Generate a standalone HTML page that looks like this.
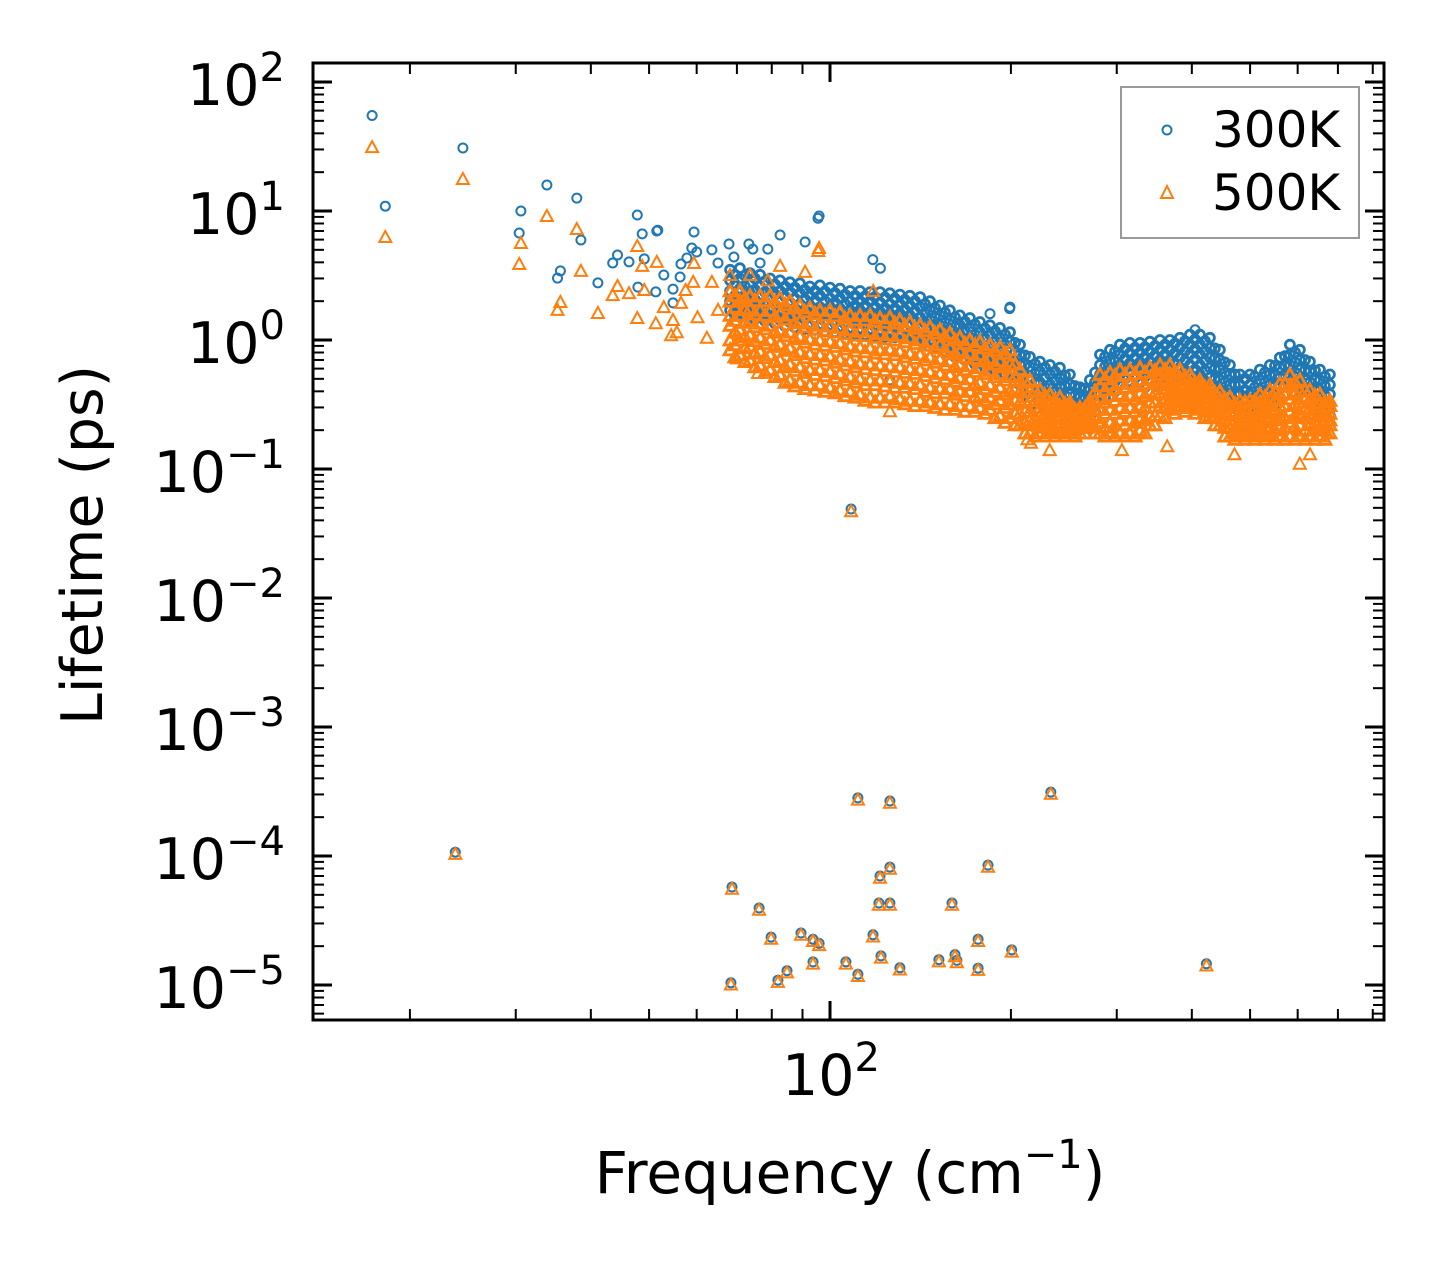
<!DOCTYPE html>
<html><head><meta charset="utf-8"><title>Lifetime vs Frequency</title>
<style>
html,body{margin:0;padding:0;background:#fff;}
svg{display:block;}
text{font-family:"DejaVu Sans","Liberation Sans",sans-serif;fill:#000;}
</style></head>
<body>
<svg id="chart" width="1443" height="1269" viewBox="0 0 1443 1269" xmlns="http://www.w3.org/2000/svg">
<rect x="0" y="0" width="1443" height="1269" fill="#fff"/>
<g id="marks300"></g>
<g id="marks500"></g>
<g id="ticks"></g>
<rect x="313" y="63" width="1071" height="957" fill="none" stroke="#000" stroke-width="3"/>
<g id="labels"></g>
<text x="0" y="0" font-size="57" text-anchor="middle" transform="translate(102,545) rotate(-90)">Lifetime (ps)</text>
<text x="850" y="1193" font-size="58" text-anchor="middle">Frequency (cm<tspan font-size="40" dy="-25">−1</tspan><tspan dy="25">)</tspan></text>
<g>
<rect x="1121" y="87" width="238" height="151" fill="#fff" stroke="#999" stroke-width="2"/>
<circle cx="1167" cy="130" r="4.5" fill="none" stroke="#1f77b4" stroke-width="2"/>
<text x="1212" y="147" font-size="50">300K</text>
<polygon points="1167,186 1173,198 1161,198" fill="none" stroke="#ff7f0e" stroke-width="2"/>
<text x="1212" y="210" font-size="50">500K</text>
</g>
</svg>
<script>
// ---- data ----
const scatterFreq300 = [17.3,18.2,24.5,30.6,30.4,33.8,37.9,38.5,35.6,35.2,41.1,43.5,44.3,46.3,47.8,48.7,49.1,47.9,51.3,51.5,51.7,52.9,54.8,56.5,57.8,59.4,58.9,60.0,63.6,67.9,69.2,73.3,74.4,78.8,82.6,90.9,95.9,95.5,54.8,56.3,65.1,76.5,108.4,117.8,121.3,125.8,199.3,184.6,405,199];
const scatterLife300 = [55,10.9,30.8,10.0,6.75,15.9,12.6,5.96,3.43,3.02,2.77,3.95,4.56,4.03,9.31,6.64,4.25,2.57,2.36,7.0,7.1,3.19,2.48,3.88,4.32,6.88,5.17,4.81,4.99,5.55,4.40,5.55,5.07,5.07,6.52,5.75,9.14,8.8,1.94,3.08,3.95,3.95,0.049,4.2,3.6,0.49,1.8,1.6,1.2,1.75];
const scatterFreq500 = [17.3,18.2,24.5,30.6,30.4,33.8,37.9,38.5,35.6,35.2,41.1,43.5,44.3,46.3,47.8,48.7,49.1,47.8,51.3,51.5,52.9,54.8,54.4,55.6,59.4,57.5,56.5,59.2,62.4,60.2,63.6,68.2,65.1,70.0,75.9,73.6,82.6,90.9,95.9,95.6,78.8,108.4,118,125.8,213,216,232,306,364,471,605,629];
const scatterLife500 = [31.3,6.29,17.7,5.65,3.88,9.14,7.25,3.43,1.97,1.71,1.62,2.23,2.62,2.31,5.35,3.75,2.44,1.48,1.35,4.03,1.80,1.43,1.09,1.15,3.95,2.44,1.94,2.82,1.04,1.50,2.82,3.19,1.71,0.72,0.555,3.19,3.75,3.37,5.17,4.9,2.9,0.047,2.4,0.28,0.17,0.16,0.14,0.14,0.15,0.13,0.11,0.13];
const bandFreq = [68.2,70.8,73.6,76.5,79.5,82.6,85.8,89.1,92.6,96.2,100,103.9,108,112.2,116.6,121.1,125.8,130.7,135.8,141.2,146.7,152.4,158.3,164.5,170.9,177.6,184.6,191.8,199.3,207.1,215.1,223.5,232.3,241.3,250.7,260.5,270.7,281.3,292.3,303.7,315.5,327.9,340.6,354,367.8,382.1,397.1,412.6,428.7,445.4,462.8,480.9,499.7,519.2,539.5,560.5,582.4,605.2,628.8,653.4,678.9];
const band300 = [
[3.5,2.9,2.4,2.0,1.7],[3.6,3.0,2.5,2.1,1.75],[3.3,2.7,2.3,1.9,1.6],[3.2,2.6,2.2,1.85,1.55],[3.0,2.5,2.1,1.75,1.5],
[2.9,2.4,2.0,1.7,1.43],[2.8,2.35,1.95,1.65,1.38],[2.75,2.3,1.9,1.6,1.35],[2.6,2.2,1.85,1.55,1.3],[2.65,2.2,1.8,1.55,1.3],
[2.55,2.1,1.8,1.5,1.25],[2.5,2.1,1.75,1.45,1.25],[2.4,2.0,1.7,1.43,1.2],[2.4,2.0,1.7,1.43,1.2],[2.35,2.0,1.65,1.4,1.18],
[2.35,1.95,1.65,1.38,1.15],[2.3,1.9,1.6,1.36,1.15],[2.25,1.9,1.6,1.35,1.13],[2.2,1.85,1.55,1.32,1.1],[2.15,1.8,1.5,1.28,1.08],
[2.0,1.7,1.43,1.2,1.0],[1.85,1.55,1.3,1.1,0.92],[1.7,1.43,1.2,1.0,0.84],[1.55,1.3,1.1,0.92,0.77],[1.48,1.25,1.05,0.88,0.74],
[1.38,1.15,0.97,0.81,0.68],[1.3,1.1,0.92,0.77,0.64],[1.24,1.04,0.87,0.73,0.61],[1.15,0.97,0.81,0.68,0.57],[0.92,0.77,0.65,0.54,0.45],
[0.74,0.62,0.52,0.43,0.36],[0.68,0.57,0.47,0.4,0.33],[0.64,0.54,0.45,0.38,0.32],[0.61,0.51,0.43,0.36,0.3],[0.54,0.45,0.38,0.31,0.26],
[0.43,0.36,0.3,0.25,0.21],[0.49,0.41,0.34,0.29,0.24],[0.77,0.64,0.54,0.45,0.38],[0.84,0.7,0.59,0.49,0.41],[0.92,0.77,0.64,0.54,0.45],
[0.95,0.79,0.66,0.56,0.47],[0.95,0.8,0.67,0.56,0.47],[0.97,0.81,0.68,0.57,0.48],[1.0,0.84,0.7,0.59,0.49],[1.0,0.84,0.7,0.59,0.49],
[1.04,0.87,0.73,0.61,0.51],[1.1,0.92,0.77,0.64,0.54],[1.1,0.92,0.77,0.64,0.54],[1.04,0.87,0.73,0.61,0.51],[0.84,0.7,0.59,0.49,0.41],
[0.64,0.54,0.45,0.38,0.31],[0.54,0.45,0.38,0.31,0.26],[0.54,0.45,0.38,0.31,0.26],[0.59,0.49,0.41,0.34,0.29],[0.64,0.54,0.45,0.38,0.31],
[0.73,0.61,0.51,0.43,0.36],[0.92,0.77,0.64,0.54,0.45],[0.84,0.7,0.59,0.49,0.41],[0.68,0.57,0.47,0.4,0.33],[0.59,0.49,0.41,0.34,0.29],
[0.54,0.45,0.38,0.31,0.26]];
const band500 = [
[2.4,2.0,1.55,1.3,1.0,0.84],[2.4,2.0,1.55,1.2,1.0,0.77],[2.2,1.75,1.43,1.1,0.9,0.70],[2.2,1.7,1.35,1.05,0.82,0.64],[2.2,1.7,1.3,1.0,0.77,0.59],
[2.1,1.6,1.2,0.93,0.70,0.54],[2.0,1.55,1.15,0.87,0.65,0.49],[1.85,1.4,1.07,0.81,0.62,0.47],[1.77,1.35,1.02,0.78,0.59,0.45],[1.7,1.3,1.0,0.77,0.59,0.45],
[1.7,1.28,0.98,0.75,0.57,0.43],[1.65,1.25,0.95,0.71,0.55,0.41],[1.55,1.2,0.9,0.69,0.52,0.40],[1.55,1.17,0.88,0.66,0.5,0.38],[1.55,1.17,0.87,0.65,0.49,0.36],
[1.48,1.12,0.84,0.64,0.49,0.36],[1.5,1.1,0.85,0.63,0.48,0.37],[1.43,1.08,0.82,0.62,0.47,0.35],[1.38,1.04,0.79,0.6,0.46,0.34],[1.3,1.0,0.77,0.59,0.45,0.34],
[1.26,0.97,0.74,0.57,0.43,0.33],[1.2,0.92,0.71,0.55,0.42,0.32],[1.13,0.88,0.69,0.54,0.42,0.32],[1.05,0.82,0.65,0.51,0.4,0.31],[1.0,0.79,0.63,0.5,0.4,0.31],
[0.97,0.77,0.61,0.47,0.37,0.3],[0.92,0.72,0.58,0.45,0.36,0.29],[0.88,0.69,0.55,0.43,0.34,0.26],[0.84,0.65,0.52,0.4,0.32,0.25],[0.59,0.48,0.4,0.33,0.27,0.22],
[0.49,0.4,0.34,0.28,0.24,0.19],[0.41,0.35,0.3,0.26,0.23,0.19],[0.38,0.33,0.29,0.25,0.22,0.19],[0.36,0.31,0.28,0.25,0.22,0.19],[0.33,0.3,0.27,0.24,0.21,0.19],
[0.3,0.28,0.25,0.23,0.21,0.19],[0.34,0.31,0.29,0.26,0.24,0.22],[0.54,0.44,0.35,0.29,0.23,0.19],[0.56,0.45,0.37,0.29,0.23,0.19],[0.59,0.47,0.38,0.3,0.24,0.19],
[0.59,0.46,0.37,0.3,0.24,0.19],[0.61,0.49,0.39,0.31,0.25,0.2],[0.61,0.5,0.4,0.33,0.26,0.22],[0.64,0.54,0.45,0.38,0.31,0.26],[0.64,0.55,0.46,0.39,0.34,0.29],
[0.59,0.51,0.45,0.39,0.34,0.3],[0.54,0.47,0.42,0.38,0.34,0.3],[0.49,0.44,0.4,0.36,0.32,0.29],[0.45,0.4,0.36,0.33,0.29,0.26],[0.4,0.35,0.31,0.28,0.25,0.22],
[0.36,0.31,0.28,0.24,0.21,0.18],[0.34,0.3,0.26,0.23,0.2,0.18],[0.34,0.3,0.26,0.23,0.2,0.18],[0.38,0.33,0.28,0.24,0.21,0.18],[0.41,0.35,0.29,0.25,0.21,0.18],
[0.46,0.38,0.31,0.26,0.22,0.18],[0.54,0.44,0.35,0.28,0.23,0.18],[0.49,0.4,0.33,0.27,0.22,0.18],[0.41,0.35,0.3,0.26,0.22,0.18],[0.38,0.33,0.28,0.24,0.21,0.18],
[0.34,0.31,0.27,0.24,0.22,0.19]];
const midFreq = [69.5,72.2,75.0,78.0,81.0,84.2,87.4,90.8,94.4,98.1,101.9,105.9,110.1,114.4,118.8,123.4,128.2,133.2,138.5,143.9,149.5,155.3,161.4,167.7,174.2,181.1,188.2,195.5,203.2,211.1,219.3,227.9,236.8,246.0,255.6,265.6,276.0,286.8,298.0,309.6,321.7,334.2,347.3,360.9,374.9,389.6,404.8,420.6,437.0,454.1,471.8,490.3,509.4,529.3,550.0,571.4,593.8,617.0,641.1,666.1];
const mid300 = [
[3.2,2.7,2.2,1.85,1.55],[3.15,2.6,2.2,1.85,1.55],[3.0,2.45,2.05,1.72,1.45],[2.85,2.35,1.97,1.65,1.4],[2.7,2.25,1.88,1.58,1.34],
[2.6,2.17,1.8,1.52,1.28],[2.55,2.1,1.76,1.48,1.25],[2.45,2.07,1.72,1.45,1.22],[2.4,2.02,1.68,1.42,1.2],[2.38,2.0,1.65,1.4,1.17],
[2.32,1.95,1.63,1.36,1.15],[2.25,1.9,1.58,1.33,1.12],[2.2,1.84,1.56,1.31,1.1],[2.18,1.84,1.54,1.3,1.09],[2.16,1.8,1.52,1.27,1.07],
[2.14,1.77,1.5,1.26,1.06],[2.1,1.75,1.47,1.24,1.05],[2.05,1.72,1.45,1.22,1.03],[2.0,1.68,1.4,1.19,1.0],[1.9,1.61,1.35,1.13,0.95],
[1.77,1.5,1.26,1.06,0.88],[1.63,1.37,1.15,0.97,0.81],[1.5,1.26,1.06,0.88,0.74],[1.39,1.18,0.99,0.83,0.7],[1.32,1.1,0.93,0.78,0.65],
[1.23,1.03,0.87,0.73,0.61],[1.17,0.98,0.82,0.69,0.58],[1.1,0.92,0.77,0.65,0.54],[0.95,0.8,0.67,0.56,0.47],[0.76,0.64,0.54,0.45,0.37],
[0.65,0.55,0.46,0.38,0.32],[0.61,0.51,0.43,0.36,0.3],[0.57,0.48,0.4,0.34,0.28],[0.53,0.44,0.37,0.31,0.26],[0.44,0.37,0.31,0.26,0.22],
[0.42,0.35,0.29,0.25,0.21],[0.56,0.47,0.39,0.33,0.28],[0.74,0.62,0.52,0.43,0.36],[0.81,0.68,0.57,0.48,0.4],[0.86,0.72,0.6,0.5,0.42],
[0.87,0.73,0.61,0.51,0.43],[0.88,0.74,0.62,0.52,0.43],[0.9,0.76,0.63,0.53,0.44],[0.92,0.77,0.64,0.54,0.45],[0.94,0.79,0.66,0.55,0.46],
[0.98,0.82,0.69,0.58,0.48],[1.01,0.85,0.71,0.59,0.5],[0.98,0.82,0.69,0.58,0.48],[0.86,0.72,0.6,0.5,0.42],[0.67,0.56,0.47,0.39,0.33],
[0.54,0.45,0.38,0.32,0.26],[0.5,0.41,0.35,0.29,0.24],[0.52,0.43,0.36,0.3,0.25],[0.56,0.47,0.39,0.33,0.28],[0.63,0.53,0.44,0.37,0.31],
[0.75,0.63,0.53,0.44,0.37],[0.8,0.67,0.56,0.47,0.39],[0.7,0.58,0.49,0.41,0.34],[0.58,0.49,0.41,0.34,0.29],[0.52,0.44,0.37,0.31,0.26]];
const mid500 = [
[2.2,1.8,1.42,1.15,0.92,0.74],[2.1,1.72,1.37,1.06,0.87,0.68],[2.02,1.59,1.27,0.99,0.79,0.62],[2.02,1.56,1.22,0.94,0.73,0.56],[1.98,1.52,1.15,0.89,0.68,0.52],
[1.88,1.45,1.08,0.83,0.62,0.47],[1.77,1.36,1.02,0.77,0.58,0.44],[1.66,1.27,0.96,0.73,0.56,0.42],[1.6,1.22,0.93,0.71,0.54,0.41],[1.56,1.19,0.91,0.7,0.53,0.4],
[1.54,1.16,0.89,0.67,0.51,0.39],[1.47,1.12,0.85,0.64,0.49,0.37],[1.43,1.09,0.82,0.62,0.47,0.36],[1.43,1.08,0.81,0.6,0.45,0.34],[1.4,1.05,0.79,0.59,0.45,0.33],
[1.37,1.02,0.78,0.58,0.44,0.33],[1.35,1.0,0.77,0.57,0.43,0.33],[1.29,0.97,0.74,0.56,0.43,0.32],[1.23,0.94,0.72,0.55,0.42,0.31],[1.18,0.91,0.7,0.53,0.4,0.31],
[1.13,0.87,0.67,0.51,0.39,0.3],[1.07,0.83,0.64,0.5,0.39,0.29],[1.0,0.78,0.62,0.48,0.38,0.29],[0.94,0.74,0.59,0.46,0.37,0.28],[0.91,0.72,0.57,0.45,0.36,0.28],
[0.87,0.69,0.55,0.42,0.34,0.27],[0.83,0.65,0.52,0.4,0.32,0.25],[0.79,0.62,0.49,0.38,0.3,0.23],[0.65,0.52,0.42,0.34,0.27,0.22],[0.49,0.4,0.34,0.28,0.23,0.19],
[0.41,0.34,0.3,0.25,0.22,0.18],[0.37,0.31,0.27,0.24,0.21,0.18],[0.34,0.3,0.26,0.23,0.2,0.18],[0.32,0.28,0.25,0.22,0.2,0.18],[0.29,0.27,0.24,0.21,0.19,0.18],
[0.3,0.27,0.25,0.23,0.21,0.19],[0.4,0.34,0.29,0.25,0.21,0.19],[0.5,0.41,0.33,0.27,0.21,0.18],[0.53,0.42,0.34,0.27,0.22,0.18],[0.54,0.43,0.35,0.28,0.22,0.18],
[0.55,0.44,0.35,0.28,0.23,0.18],[0.56,0.46,0.37,0.3,0.24,0.19],[0.58,0.48,0.39,0.33,0.26,0.22],[0.59,0.5,0.42,0.35,0.3,0.25],[0.57,0.49,0.42,0.36,0.31,0.27],
[0.52,0.45,0.4,0.36,0.31,0.28],[0.47,0.42,0.37,0.34,0.3,0.27],[0.43,0.38,0.35,0.32,0.28,0.25],[0.39,0.34,0.31,0.28,0.25,0.22],[0.35,0.31,0.27,0.24,0.21,0.18],
[0.32,0.28,0.24,0.21,0.19,0.17],[0.33,0.29,0.25,0.22,0.19,0.17],[0.34,0.3,0.25,0.22,0.19,0.17],[0.36,0.31,0.27,0.23,0.19,0.17],[0.4,0.34,0.28,0.24,0.2,0.17],
[0.46,0.38,0.31,0.25,0.21,0.17],[0.47,0.39,0.32,0.26,0.21,0.17],[0.41,0.35,0.29,0.25,0.2,0.17],[0.37,0.32,0.27,0.23,0.2,0.17],[0.33,0.3,0.26,0.23,0.2,0.17]];
const lowFreq = [23.8,68.7,76.2,79.8,68.4,81.9,84.8,89.5,93.7,93.7,95.9,106.3,111.3,111.3,125.8,125.8,121.1,120.6,125.8,117.9,121.6,130.7,151.8,159.6,161.4,162.6,176.4,176.4,183.2,200.6,233,423];
const lowLife = [1.07e-4,5.75e-5,3.95e-5,2.35e-5,1.04e-5,1.09e-5,1.29e-5,2.53e-5,2.26e-5,1.51e-5,2.1e-5,1.51e-5,1.21e-5,2.82e-4,2.67e-4,8.2e-5,7.0e-5,4.32e-5,4.32e-5,2.45e-5,1.68e-5,1.36e-5,1.57e-5,4.32e-5,1.72e-5,1.55e-5,2.26e-5,1.35e-5,8.5e-5,1.87e-5,3.13e-4,1.46e-5];
const yTickExp = [2,1,0,-1,-2,-3,-4,-5];
const xTickExp = [2];

// ---- axes ----
const X0 = 830, XDEC = 601, Y0 = 82, YDEC = 129;
const L = 313, R = 1384, T = 63, B = 1020;
function xs(f){ return X0 + (Math.log10(f) - 2) * XDEC; }
function ys(v){ return Y0 + (2 - Math.log10(v)) * YDEC; }
const NS = 'http://www.w3.org/2000/svg';
function mk(tag, attrs, parent){ const e = document.createElementNS(NS, tag); for (const k in attrs) e.setAttribute(k, attrs[k]); parent.appendChild(e); return e; }

const g300 = document.getElementById('marks300');
const g500 = document.getElementById('marks500');
function circ(f, v, sw){
  const c = mk('circle', {cx: xs(f).toFixed(1), cy: ys(v).toFixed(1), r: 4.5, fill: 'none', stroke: '#1f77b4', 'stroke-width': sw || 2}, g300);
  
  
}
function tri(f, v, sw){
  const x = xs(f), y = ys(v);
  const p = mk('polygon', {points: `${x.toFixed(1)},${(y-6).toFixed(1)} ${(x+6).toFixed(1)},${(y+5).toFixed(1)} ${(x-6).toFixed(1)},${(y+5).toFixed(1)}`, fill: 'none', stroke: '#ff7f0e', 'stroke-width': sw || 2}, g500);
  
  
}
scatterFreq300.forEach((f, i) => circ(f, scatterLife300[i]));
bandFreq.forEach((f, i) => band300[i].forEach(v => circ(f, v, 2.8)));
midFreq.forEach((f, i) => mid300[i].forEach(v => circ(f, v, 2.8)));
lowFreq.forEach((f, i) => circ(f, lowLife[i]));
scatterFreq500.forEach((f, i) => tri(f, scatterLife500[i]));
bandFreq.forEach((f, i) => band500[i].forEach(v => tri(f, v, 2.8)));
midFreq.forEach((f, i) => mid500[i].forEach(v => tri(f, v, 2.8)));
lowFreq.forEach((f, i) => tri(f, lowLife[i] * 0.97));

// ---- ticks ----
const gt = document.getElementById('ticks');
function line(x1, y1, x2, y2, w){
  const l = mk('line', {x1, y1, x2, y2, stroke: '#000', 'stroke-width': w}, gt);
  
  
}
for (let e = -6; e <= 2; e++) {
  for (let m = 1; m <= 9; m++) {
    const y = ys(m * Math.pow(10, e));
    if (y < T + 1 || y > B - 1) continue;
    const len = m === 1 ? 19 : 11, w = m === 1 ? 3 : 2;
    line(L, y, L + len, y, w); line(R, y, R - len, y, w);
  }
}
for (let e = 1; e <= 2; e++) {
  for (let m = 1; m <= 9; m++) {
    const x = xs(m * Math.pow(10, e));
    if (x < L + 1 || x > R - 1) continue;
    const len = m === 1 ? 19 : 11, w = m === 1 ? 3 : 2;
    line(x, B, x, B - len, w); line(x, T, x, T + len, w);
  }
}
const gl = document.getElementById('labels');
yTickExp.forEach(e => {
  const t = mk('text', {x: 285, y: (ys(Math.pow(10, e)) + 23).toFixed(1), 'font-size': 57, 'text-anchor': 'end'}, gl);
  
  
  t.innerHTML = `10<tspan font-size="40" dy="-24">${e < 0 ? '−' + (-e) : e}</tspan>`;
});
xTickExp.forEach(e => {
  const t = mk('text', {x: xs(Math.pow(10, e)) + 1, y: 1095, 'font-size': 57, 'text-anchor': 'middle'}, gl);
  
  
  t.innerHTML = `10<tspan font-size="40" dy="-24">${e}</tspan>`;
});
</script>
</body></html>
